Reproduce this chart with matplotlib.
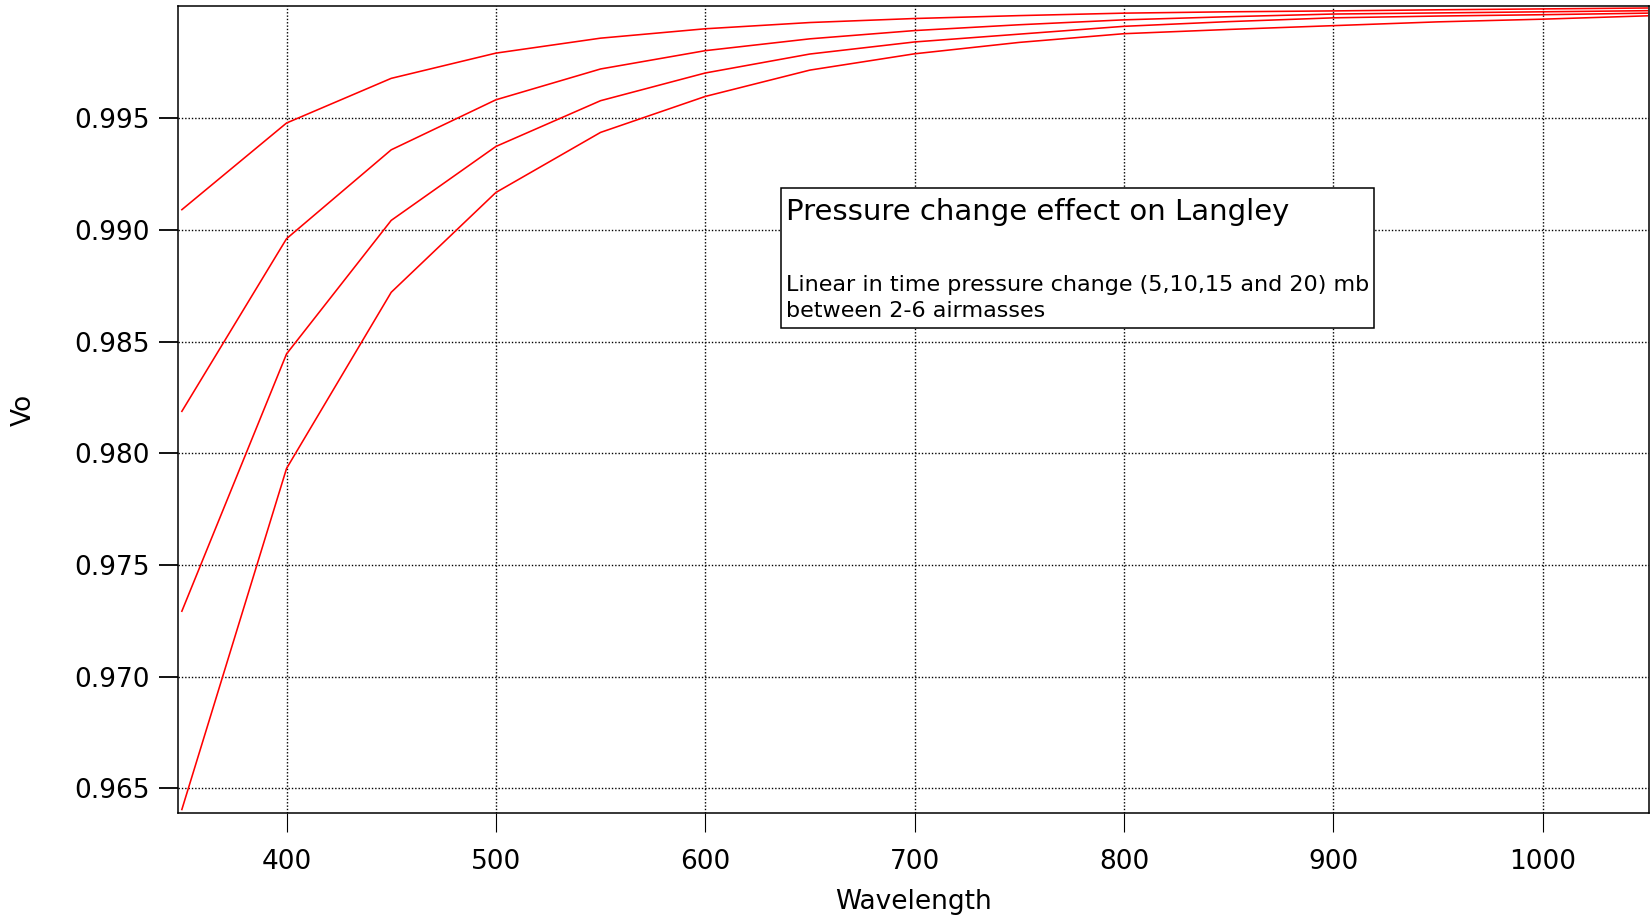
import matplotlib
matplotlib.use("Agg")
import matplotlib.pyplot as plt
from matplotlib.patches import Rectangle
from matplotlib.ticker import FormatStrFormatter

wavelength = [350, 400, 450, 500, 550, 600, 650, 700, 750, 800, 850, 900, 950, 1000, 1050]
vo_5mb = [0.99091, 0.99479, 0.99679, 0.99792, 0.99859, 0.99901, 0.99929, 0.99947,
          0.99960, 0.99971, 0.99977, 0.99981, 0.99986, 0.99990, 0.99994]
vo_10mb = [0.98188, 0.98961, 0.99359, 0.99583, 0.99721, 0.99803, 0.99856, 0.99893,
           0.99919, 0.99941, 0.99955, 0.99967, 0.99972, 0.99977, 0.99982]
vo_15mb = [0.97293, 0.98445, 0.99043, 0.99374, 0.99579, 0.99703, 0.99788, 0.99842,
           0.99877, 0.99912, 0.99933, 0.99950, 0.99958, 0.99964, 0.99971]
vo_20mb = [0.96405, 0.97932, 0.98721, 0.99168, 0.99437, 0.99598, 0.99716, 0.99789,
           0.99840, 0.99879, 0.99898, 0.99915, 0.99932, 0.99944, 0.99959]
series = [vo_5mb, vo_10mb, vo_15mb, vo_20mb]

x_ticks = [400, 500, 600, 700, 800, 900, 1000]
y_ticks = [0.965, 0.970, 0.975, 0.980, 0.985, 0.990, 0.995]

title_text = "Pressure change effect on Langley"
sub_lines = ["Linear in time pressure change (5,10,15 and 20) mb",
             "between 2-6 airmasses"]

plt.rcParams['font.family'] = ['DejaVu Sans']

W, H = 1652, 916
fig = plt.figure(figsize=(W / 100, H / 100), dpi=100)
left, right, top, bottom = 178.3, 1649.0, 6.0, 813.3
ax = fig.add_axes([left / W, 1 - bottom / H, (right - left) / W, (bottom - top) / H])

for s in series:
    ax.plot(wavelength, s, color='#ff0000', lw=1.15, solid_joinstyle='miter')

ax.set_xlim(348.3, 1050.8)
ax.set_ylim(0.96388, 1.00003)
ax.set_xticks(x_ticks)
ax.set_yticks(y_ticks)
ax.yaxis.set_major_formatter(FormatStrFormatter('%.3f'))

ax.grid(True, color='black', linestyle=(0, (1, 1.4)), lw=1.0)
ax.set_axisbelow(True)
for sp in ax.spines.values():
    sp.set_linewidth(1.1)
    sp.set_color('black')

ax.tick_params(axis='both', direction='out', length=13.5, labelsize=19, colors='black')
ax.tick_params(axis='x', width=0.8, pad=12)
ax.tick_params(axis='y', width=1.3, pad=7)

ax.set_xlabel("Wavelength", fontsize=19, labelpad=10)
ax.set_ylabel("Vo", fontsize=19, labelpad=27)

# annotation box
aw, ah = right - left, bottom - top
def fx(px):
    return (px - left) / aw
def fy(py):
    return (bottom - py) / ah

ax.add_patch(Rectangle((fx(780.7), fy(328.0)), fx(1374.0) - fx(780.7), fy(188.5) - fy(328.0),
                       transform=ax.transAxes, fill=True, facecolor='white',
                       edgecolor='black', lw=1.1, zorder=5))
ax.text(fx(785.5), fy(220.0), title_text, transform=ax.transAxes, fontsize=21,
        va='baseline', ha='left', zorder=6)
ax.text(fx(785.5), fy(290.7), sub_lines[0], transform=ax.transAxes, fontsize=16,
        va='baseline', ha='left', zorder=6)
ax.text(fx(785.5), fy(317.3), sub_lines[1], transform=ax.transAxes, fontsize=16,
        va='baseline', ha='left', zorder=6)

fig.savefig("out.png", dpi=100)
